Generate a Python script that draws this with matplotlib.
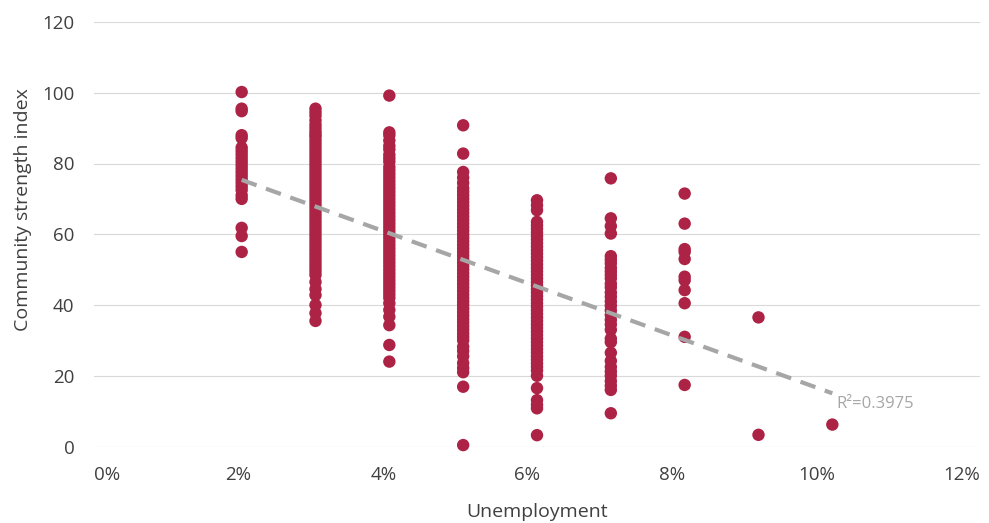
import numpy as np
import matplotlib
matplotlib.use("Agg")
import matplotlib.pyplot as plt
import matplotlib.transforms as mtransforms

# Datos: índice de fortaleza comunitaria por tasa de desempleo (%)
desempleo = [2, 3, 4, 5, 6, 7, 8, 9, 10]
indice_2 = [100.2, 95.5, 94.8, 88, 87.2, 84.5, 83.5, 82.5, 81.5, 80.5, 79.5, 78.5,
            77.5, 76.5, 75.5, 74.5, 73.5, 72.5, 71, 70, 61.8, 59.5, 55]
indice_3 = [95.5, 94.5, 93.5, 92.2, 91, 90, 89, 88.2, 87.5, 86.5, 85.5, 84.5, 83.5,
            82.5, 81.5, 80.5, 79.5, 78.5, 77.5, 76.5, 75.5, 74.5, 73.5, 72.5, 71.5,
            70.5, 69.5, 68.5, 67.5, 66.5, 65.5, 64.5, 63.5, 62.5, 61.5, 60.5, 59.5,
            58.5, 57.5, 56.5, 55.5, 54.5, 53.5, 52.5, 51.5, 50.5, 49.5, 48.5, 46.5,
            44.5, 42.8, 40, 37.7, 35.5]
indice_4 = [99.2, 88.8, 88, 86.5, 85, 84, 82.5, 81.5, 80.5, 79, 78, 77, 76, 75, 74,
            73, 72, 71, 70, 69, 68, 67, 66, 65, 64, 63, 62, 61, 60, 59, 58, 57, 56,
            55, 54, 53, 52, 51, 50, 49, 48, 47, 46, 45, 44, 43, 42, 40.5, 38.6, 36.7,
            34.3, 28.7, 24]
indice_5 = [90.8, 82.8, 77.6, 76, 74.5, 73, 72, 71, 70, 69, 68, 67, 66, 65, 64, 63,
            62, 61, 60, 59, 58, 57, 56, 55, 54, 53, 52, 51, 50, 49, 48, 47, 46, 45,
            44, 43, 42, 41, 40, 39, 38, 37, 36, 35, 34, 33, 32, 31, 30, 28.2, 27,
            25.5, 23.6, 22.2, 21, 16.9, 0.4]
indice_6 = [69.6, 68.2, 66.8, 63.5, 62.5, 61.5, 60.5, 59.5, 58.5, 57.5, 56.5, 55.5,
            54.5, 53.5, 52.5, 51.5, 50.5, 49.5, 48.5, 47.5, 46.5, 45.5, 44.5, 43.5,
            42.5, 41.5, 40.5, 39.5, 38.5, 37.5, 36.5, 35.5, 34.5, 33.5, 32.5, 31.5,
            30.5, 29.5, 28.5, 27.5, 26.5, 25.5, 24.5, 23.5, 22.5, 21.5, 20, 16.5,
            13.1, 11.8, 10.8, 3.2]
indice_7 = [75.8, 64.5, 62.3, 60.2, 53.8, 52.8, 51.8, 50.5, 49.5, 48.5, 47.5, 46,
            45, 43.5, 42.3, 41, 39.8, 38.5, 37.2, 35.8, 34.5, 33, 30.5, 29.5, 26.5,
            24.2, 22.5, 21.2, 20, 18.5, 17.2, 16, 9.4]
indice_8 = [71.5, 63, 55.8, 55, 53, 48, 47, 44.2, 40.5, 31, 17.4]
indice_9 = [36.5, 3.3]
indice_10 = [6.2]
texto_r2 = "R²=0.3975"
ticks_x = [0, 2, 4, 6, 8, 10, 12]

columnas = [indice_2, indice_3, indice_4, indice_5, indice_6, indice_7,
            indice_8, indice_9, indice_10]

x = np.concatenate([[d] * len(c) for d, c in zip(desempleo, columnas)]).astype(float)
y = np.concatenate(columnas).astype(float)

rojo = "#AD2346"
gris = "#A6A6A6"
texto = "#404040"

plt.rcParams["font.family"] = ["Open Sans", "DejaVu Sans"]

fig = plt.figure(figsize=(9.89, 5.23), dpi=100)
ax = fig.add_axes([94 / 989, 1 - 446.5 / 523, 886 / 989, 424.5 / 523])

ax.scatter(x, y, s=80, color=rojo, edgecolors="none", zorder=3, clip_on=False)

# Línea de tendencia (mínimos cuadrados)
m, b = np.polyfit(x, y, 1)
xt = np.array([min(desempleo), max(desempleo)])
ax.plot(xt, m * xt + b, color=gris, lw=3, dashes=(3.8, 2.4),
        dash_capstyle="butt", zorder=4)
ax.text(10.05, 12, texto_r2, color=gris, fontsize=12, va="center", ha="left")

ax.set_xlim(0, 12)
ax.set_ylim(0, 120)
ax.set_xticks(ticks_x)
ax.set_xticklabels([f"{v}%" for v in ticks_x])
ax.set_yticks(range(0, 121, 20))

ax.grid(axis="y", color="#D9D9D9", lw=0.8)
ax.set_axisbelow(True)
for s in ax.spines.values():
    s.set_visible(False)
ax.tick_params(length=0, pad=14, labelsize=13.5, labelcolor=texto)

# Etiquetas del eje x algo comprimidas hacia dentro, como en el original
desplaz = [0, -4, -6, -10, -13, -16, 0]
etiquetas = ax.get_xticklabels()
etiquetas[0].set_ha("left")
etiquetas[-1].set_ha("right")
for lab, dx in zip(etiquetas, desplaz):
    lab.set_transform(lab.get_transform() +
                      mtransforms.ScaledTranslation(dx / 100, 0, fig.dpi_scale_trans))

ax.set_xlabel("Unemployment", fontsize=14, color=texto)
ax.set_ylabel("Community strength index", fontsize=14, color=texto)
ax.xaxis.set_label_coords(0.5, -0.154)
ax.yaxis.set_label_coords(-0.080, 0.559)
ax.xaxis.label.set_va("center")
ax.yaxis.label.set_va("center")

fig.savefig("out.png", dpi=100)
